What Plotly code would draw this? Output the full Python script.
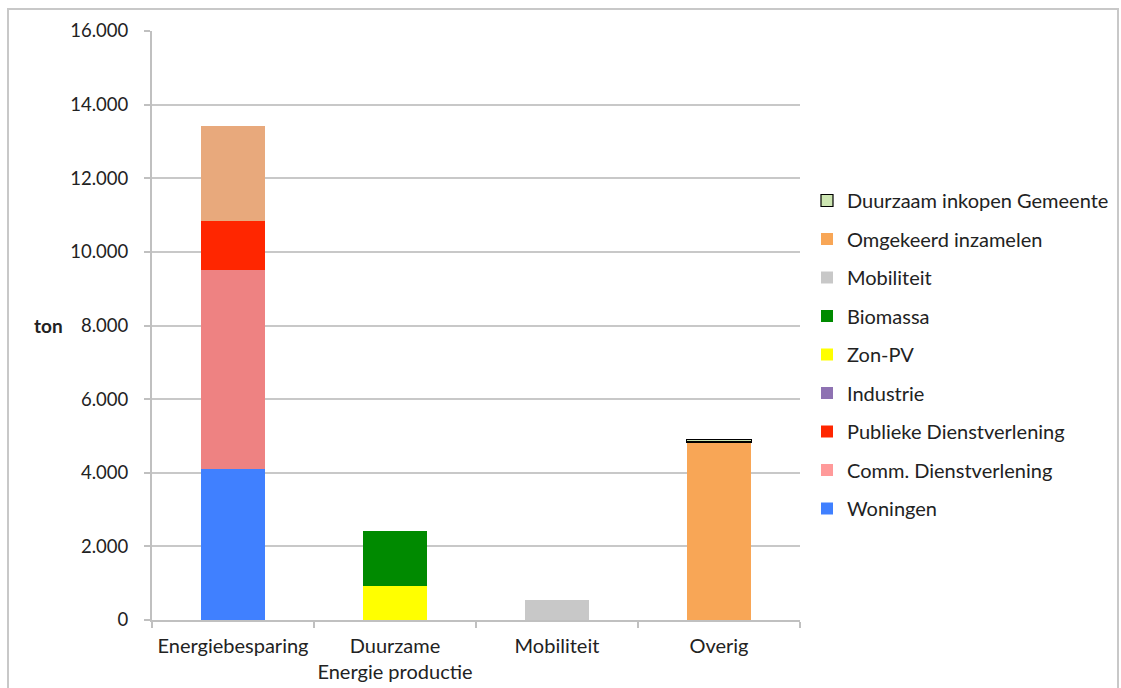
import plotly.graph_objects as go

categories = ["Energiebesparing", "Duurzame<br>Energie productie", "Mobiliteit", "Overig"]

series_names = ["Woningen", "Comm. Dienstverlening", "Publieke Dienstverlening", "Industrie",
                "Zon-PV", "Biomassa", "Mobiliteit", "Omgekeerd inzamelen", "Duurzaam inkopen Gemeente"]
woningen = [4100, 0, 0, 0]
comm = [5400, 0, 0, 0]
publiek = [1350, 0, 0, 0]
industrie = [2570, 0, 0, 0]
zon = [0, 930, 0, 0]
biomassa = [0, 1500, 0, 0]
mobiliteit = [0, 0, 540, 0]
omgekeerd = [0, 0, 0, 4830]
inkopen = [0, 0, 0, 70]

values = [woningen, comm, publiek, industrie, zon, biomassa, mobiliteit, omgekeerd, inkopen]
colors = ["#4080FF", "#EE8282", "#FF2600", "#8E72B2", "#FFFF00", "#008A00", "#C8C8C8", "#F8A656", "#CDE6B2"]
legend_colors = ["#4080FF", "#FF9A9A", "#FF2600", "#8E72B2", "#FFFF00", "#008A00", "#C8C8C8", "#F8A656", "#CDE6B2"]
industrie_bar_color = "#E8A97C"

yticks = [0, 2000, 4000, 6000, 8000, 10000, 12000, 14000, 16000]

fig = go.Figure()
n = len(series_names)
for i, (name, vals) in enumerate(zip(series_names, values)):
    bar_color = industrie_bar_color if name == "Industrie" else colors[i]
    outlined = name == "Duurzaam inkopen Gemeente"
    line = dict(color="black", width=1.5) if outlined else dict(width=0)
    yv = [v if v else None for v in vals]
    fig.add_trace(go.Bar(
        x=categories, y=yv, name=name, marker=dict(color=bar_color, line=line),
        showlegend=False, legendgroup=name, hoverinfo="skip"))
    fig.add_trace(go.Bar(
        x=[categories[0]], y=[None], name=name,
        marker=dict(color=legend_colors[i],
                    line=dict(color="black", width=1.2) if outlined else dict(width=0)),
        showlegend=True, legendgroup=name, legendrank=n - i))

W, H = 1121, 688
L, R, T, B = 152, 800, 31, 620
pw, ph = R - L, B - T

def px2paper(x, y):
    return (x - L) / pw, (B - y) / ph

x0, y0 = px2paper(8, 700)
x1, y1 = px2paper(1118, 9)

fig.update_layout(
    width=W, height=H,
    margin=dict(l=L, r=W - R, t=T, b=H - B, autoexpand=False),
    barmode="stack", bargap=0.6,
    plot_bgcolor="white", paper_bgcolor="white",
    separators=",.",
    font=dict(family="Lato, Open Sans, sans-serif", size=19, color="#222222"),
    legend=dict(x=px2paper(807, 0)[0], y=px2paper(0, 181)[1], xanchor="left", yanchor="top",
                traceorder="grouped", tracegroupgap=9.5,
                font=dict(size=20, color="#222222"), itemwidth=30),
    shapes=[dict(type="rect", xref="paper", yref="paper", x0=x0, y0=y0, x1=x1, y1=y1,
                 line=dict(color="#C8C8C8", width=2), layer="below")],
    annotations=[dict(text="<b>ton</b>", xref="paper", yref="y", x=px2paper(65, 0)[0], y=8000,
                      xanchor="right", yanchor="middle", showarrow=False,
                      font=dict(size=19, color="#222222"))],
)
fig.update_xaxes(showline=True, linecolor="#C0C0C0", linewidth=2, ticks="outside", tickson="boundaries",
                 ticklen=6, tickcolor="#C0C0C0", tickwidth=2, showgrid=False, ticklabelstandoff=7,
                 tickfont=dict(size=20), tickangle=0)
fig.update_yaxes(range=[0, 16000], tickvals=yticks, tickformat=",d", showline=True, linecolor="#C0C0C0",
                 linewidth=2, ticks="outside", ticklen=6, tickcolor="#C0C0C0", tickwidth=2,
                 showgrid=True, gridcolor="#C8C8C8", gridwidth=1.5, zeroline=False, ticklabelstandoff=12,
                 tickfont=dict(size=18.5))

fig.write_html("out.html", config={"displayModeBar": False},
               post_script="document.body.style.margin='0px';document.body.style.overflow='hidden';")
